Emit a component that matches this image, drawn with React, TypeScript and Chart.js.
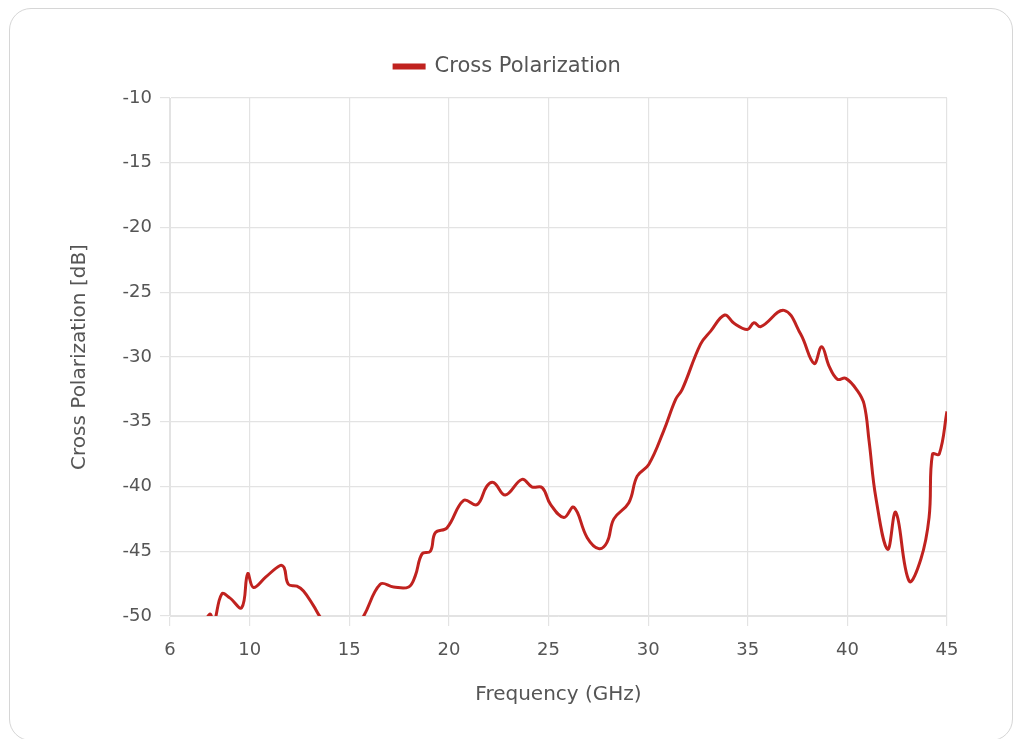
import React, { useEffect, useRef } from "react";
import { Chart, registerables } from "chart.js";

Chart.register(...registerables);

const frequencyGHz = [
  7.6, 8.0, 8.2, 8.6, 9.0, 9.6, 9.9, 10.19, 10.8, 11.53, 11.73, 11.94, 12.37, 12.7,
  13.2, 13.6, 14.6, 15.6, 16.55, 17.22, 17.98, 18.31, 18.65, 19.07, 19.32, 19.9,
  20.74, 21.41, 21.91, 22.25, 22.83, 23.67, 24.18, 24.68, 25.1, 25.77, 26.27, 26.94,
  27.52, 27.94, 28.28, 29.03, 29.45, 30.03, 30.78, 31.38, 31.71, 32.63, 33.14, 33.84,
  34.31, 34.98, 35.31, 35.65, 36.82, 37.66, 38.33, 38.71, 39.08, 39.5, 39.92, 40.5,
  40.84, 41.09, 41.43, 42.02, 42.43, 43.1, 43.69, 44.1, 44.27, 44.61, 45.0,
];

const crossPolarizationDb = [
  -51, -49.85, -50.5, -48.3, -48.6, -49.36, -46.73, -47.8, -47.0, -46.1, -46.27, -47.55, -47.7, -48.07,
  -49.2, -50.2, -51.8, -50.3, -47.55, -47.76, -47.76, -46.9, -45.2, -45.0, -43.56, -43.2,
  -41.07, -41.4, -39.96, -39.7, -40.66, -39.45, -40.04, -40.09, -41.38, -42.4, -41.6, -43.95,
  -44.8, -44.3, -42.5, -41.25, -39.2, -38.3, -35.7, -33.27, -32.5, -29.0, -28.0, -26.76,
  -27.4, -27.87, -27.36, -27.66, -26.4, -28.25, -30.5, -29.2, -30.7, -31.72, -31.65, -32.6,
  -33.65, -36.5, -40.87, -44.85, -42.0, -47.3, -45.6, -42.4, -37.5, -37.5, -34.2,
];

const xTickValues = [6, 10, 15, 20, 25, 30, 35, 40, 45];

const seriesLabel = "Cross Polarization";
const xTitle = "Frequency (GHz)";
const yTitle = "Cross Polarization [dB]";

const legendGap = {
  id: "legendGap",
  beforeUpdate(chart: any) {
    const legend = chart.legend;
    if (legend && !legend.__gapPatched) {
      const origFit = legend.fit.bind(legend);
      legend.fit = function () {
        origFit();
        this.height += 11;
      };
      legend.__gapPatched = true;
    }
  },
};

export default function App() {
  const ref = useRef<HTMLCanvasElement | null>(null);

  useEffect(() => {
    if (!ref.current) return;
    const font = "'DejaVu Sans', 'Noto Sans', sans-serif";
    const textColor = "#555555";
    const gridColor = "#e3e3e3";
    const chart = new Chart(ref.current, {
      type: "line",
      data: {
        datasets: [
          {
            label: seriesLabel,
            data: frequencyGHz.map((f, i) => ({ x: f, y: crossPolarizationDb[i] })),
            borderColor: "#c0221f",
            backgroundColor: "#c0221f",
            borderWidth: 3,
            pointRadius: 0,
            tension: 0.4,
            fill: false,
          },
        ],
      },
      plugins: [legendGap],
      options: {
        animation: false,
        responsive: true,
        maintainAspectRatio: false,
        layout: { padding: { top: 13, left: 58, right: 64, bottom: 32 } },
        plugins: {
          legend: {
            labels: {
              color: textColor,
              font: { family: font, size: 21 },
              boxWidth: 30,
              boxHeight: 3,
              padding: 34,
            },
          },
          tooltip: { enabled: false },
        },
        scales: {
          x: {
            type: "linear",
            min: 6,
            max: 45,
            afterBuildTicks: (scale: any) => {
              scale.ticks = xTickValues.map((v) => ({ value: v }));
            },
            ticks: {
              color: textColor,
              font: { family: font, size: 18 },
              padding: 14,
              maxRotation: 0,
            },
            grid: { color: gridColor, lineWidth: 1.2, tickLength: 10 },
            border: { color: gridColor },
            title: {
              display: true,
              text: xTitle,
              color: textColor,
              font: { family: font, size: 20 },
              padding: { top: 14, bottom: 0 },
            },
            afterFit: (scale: any) => {
              scale.height = 91;
            },
          },
          y: {
            min: -50,
            max: -10,
            ticks: {
              stepSize: 5,
              color: textColor,
              font: { family: font, size: 18 },
              padding: 8,
            },
            grid: { color: gridColor, lineWidth: 1.2, tickLength: 10 },
            border: { color: gridColor },
            title: {
              display: true,
              text: yTitle,
              color: textColor,
              font: { family: font, size: 20 },
              padding: { top: 0, bottom: 6 },
            },
            afterFit: (scale: any) => {
              scale.width = 102;
            },
          },
        },
      },
    } as any);
    return () => chart.destroy();
  }, []);

  return (
    <div
      style={{
        marginLeft: 1,
        width: 1004,
        height: 733,
        border: "1.5px solid #d6d6d6",
        borderRadius: 22,
        boxSizing: "border-box",
        position: "relative",
        background: "#fff",
      }}
    >
      <div style={{ position: "absolute", left: 0, top: 0, width: 1001, height: 730 }}>
        <canvas ref={ref} />
      </div>
    </div>
  );
}
